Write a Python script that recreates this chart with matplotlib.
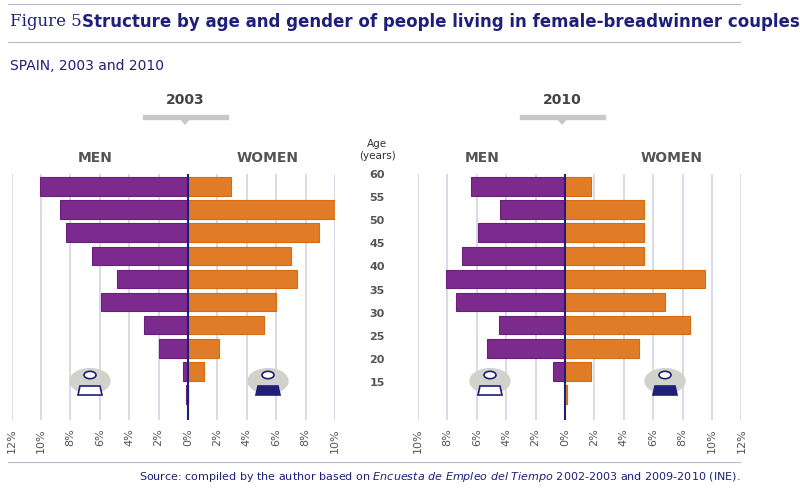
import numpy as np
import matplotlib
matplotlib.use('Agg')
import matplotlib.pyplot as plt
from matplotlib.patches import Circle, Polygon

ages = [57.5, 52.5, 47.5, 42.5, 37.5, 32.5, 27.5, 22.5, 17.5, 12.5]
age_labels = [60, 55, 50, 45, 40, 35, 30, 25, 20, 15]
men_2003 = [10.1, 8.7, 8.3, 6.5, 4.8, 5.9, 3.0, 2.0, 0.35, 0.15]
women_2003 = [2.9, 10.2, 8.9, 7.0, 7.4, 6.0, 5.2, 2.1, 1.1, 0.0]
men_2010 = [6.4, 4.4, 5.9, 7.0, 8.1, 7.4, 4.5, 5.3, 0.8, 0.0]
women_2010 = [1.8, 5.4, 5.4, 5.4, 9.5, 6.8, 8.5, 5.0, 1.8, 0.15]

W, H = 800, 492
NAVY = '#1f1f7a'
PURPLE = '#7d2a8e'
ORANGE = '#e07c27'
GRID = '#d3d3e8'
GREY = '#555555'

fig = plt.figure(figsize=(8, 4.92), dpi=100)

def fx(px):
    return px / W

def fy(py):
    return 1 - py / H

# header
fig.add_artist(plt.Line2D([fx(8), fx(740)], [fy(4), fy(4)], color='#b8b8d0', lw=0.8))
fig.add_artist(plt.Line2D([fx(8), fx(740)], [fy(42), fy(42)], color='#b8b8d0', lw=0.8))
fig.text(fx(10), fy(22), 'Figure 5.', family='DejaVu Serif', fontsize=12, color=NAVY, va='center')
fig.text(fx(82), fy(22), 'Structure by age and gender of people living in female-breadwinner couples',
         fontsize=12, fontweight='bold', color=NAVY, va='center')
fig.text(fx(10), fy(66), 'SPAIN, 2003 and 2010', fontsize=10, color=NAVY, va='center')

def panel(left_px, zero_px, xmin, xmax, men, women, year, men_x, women_x, icon_men_x, icon_women_x):
    unit = 14.7
    x0 = zero_px + xmin * unit
    width = (xmax - xmin) * unit
    ax = fig.add_axes([fx(x0), fy(420), width / W, 246 / H])
    ax.set_xlim(xmin, xmax)
    ax.set_ylim(7, 60.2)
    for s in ax.spines.values():
        s.set_visible(False)
    ax.set_yticks([])
    ticks = np.arange(xmin, xmax + 1, 2)
    ax.set_xticks(ticks)
    ax.set_xticklabels([f'{abs(int(t))}%' for t in ticks], rotation=90, fontsize=8, color=GREY)
    ax.tick_params(axis='x', length=0, pad=6)
    for t in ticks:
        ax.axvline(t, color=GRID, lw=1.2, zorder=0)
    ax.barh(ages, [-m for m in men], height=4.0, color=PURPLE, edgecolor='#6a1f7a', lw=0.8, zorder=2)
    ax.barh(ages, women, height=4.0, color=ORANGE, edgecolor='#d86a10', lw=0.8, zorder=2)
    ax.axvline(0, color=NAVY, lw=1.5, zorder=3)
    fig.text(fx(men_x), fy(158), 'MEN', fontsize=10, fontweight='bold', color=GREY, ha='center', va='center')
    fig.text(fx(women_x), fy(158), 'WOMEN', fontsize=10, fontweight='bold', color=GREY, ha='center', va='center')
    # year label with grey bar
    cx = zero_px
    fig.text(fx(cx - 3), fy(100), year, fontsize=10, fontweight='bold', color='#444444', ha='center', va='center')
    fig.add_artist(plt.Rectangle((fx(cx - 45), fy(119)), 85 / W, 4 / H, color='#c8c8c8'))
    fig.add_artist(Polygon([[fx(cx - 9), fy(117)], [fx(cx + 3), fy(117)], [fx(cx - 3), fy(124)]],
                           closed=True, color='#c8c8c8'))
    # icons
    for ix in (icon_men_x, icon_women_x):
        fig.add_artist(Circle((fx(ix), fy(381)), 20 / W, transform=fig.transFigure,
                              color='#d2d2cc', zorder=5))
        fig.add_artist(Circle((fx(ix), fy(375)), 6 / W, transform=fig.transFigure,
                              facecolor='white', edgecolor=NAVY, lw=1.2, zorder=6))
        fig.add_artist(Polygon([[fx(ix - 12), fy(395)], [fx(ix - 10), fy(386)], [fx(ix + 10), fy(386)],
                                [fx(ix + 12), fy(395)]], closed=True,
                               facecolor=NAVY if ix == icon_women_x else 'white',
                               edgecolor=NAVY, lw=1.2, zorder=6))
    return ax

panel(12, 188, -12, 10, men_2003, women_2003, '2003', 95, 268, 90, 268)
panel(418, 565, -10, 12, men_2010, women_2010, '2010', 482, 672, 490, 665)

# age labels
fig.text(fx(377), fy(150), 'Age\n(years)', fontsize=7.5, color='#333333', ha='center', va='center')
for i, a in enumerate(age_labels):
    fig.text(fx(377), fy(175 + 23.1 * i), str(a), fontsize=8, fontweight='bold', color=GREY,
             ha='center', va='center')

# source
fig.text(fx(740), fy(477),
         'Source: compiled by the author based on $\\it{Encuesta\\ de\\ Empleo\\ del\\ Tiempo}$ 2002-2003 and 2009-2010 (INE).',
         fontsize=8, color=NAVY, ha='right', va='center')
fig.add_artist(plt.Line2D([fx(8), fx(740)], [fy(462), fy(462)], color='#b8b8d0', lw=0.8))

fig.savefig('out.png', dpi=100)
